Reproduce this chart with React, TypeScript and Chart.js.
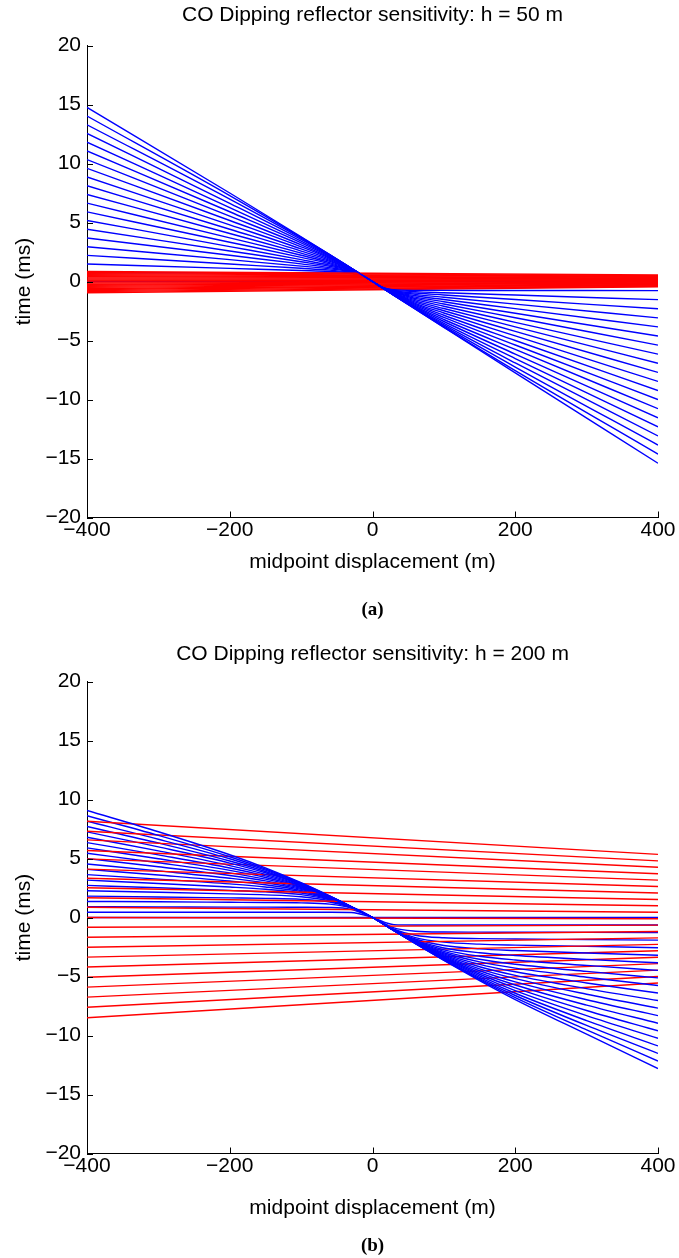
import React, { useEffect, useRef } from "react";
import { Chart, registerables } from "chart.js";
Chart.register(...registerables);

// ---------- shared axis data ----------
const xTickValues = [-400, -200, 0, 200, 400];
const xTickLabels = ["\u2212400", "\u2212200", "0", "200", "400"];
const yTickValues = [-20, -15, -10, -5, 0, 5, 10, 15, 20];
const yTickLabels = ["\u221220", "\u221215", "\u221210", "\u22125", "0", "5", "10", "15", "20"];
const xAxisTitle = "midpoint displacement (m)";
const yAxisTitle = "time (ms)";

// ---------- panel (a): h = 50 m ----------
const titleA = "CO Dipping reflector sensitivity: h = 50 m";
const captionA = "(a)";
const xA = [-400, -200, -100, -60, -30, -15, 0, 15, 30, 60, 100, 200, 400];
const blueA = [
  [0, 0, 0, 0, 0, 0, 0, 0, 0, 0, 0, 0, 0],
  [0.74, 0.74, 0.74, 0.735, 0.67, 0.48, 0, -0.49, -0.69, -0.75, -0.755, -0.76, -0.77],
  [1.48, 1.11, 0.93, 0.85, 0.73, 0.49, 0, -0.5, -0.735, -0.86, -0.95, -1.15, -1.54],
  [2.21, 1.48, 1.12, 0.96, 0.77, 0.5, 0, -0.51, -0.78, -0.98, -1.14, -1.53, -2.31],
  [2.95, 1.85, 1.3, 1.07, 0.81, 0.51, 0, -0.52, -0.83, -1.09, -1.33, -1.92, -3.08],
  [3.69, 2.22, 1.49, 1.18, 0.85, 0.52, 0, -0.53, -0.87, -1.21, -1.53, -2.3, -3.85],
  [4.43, 2.59, 1.67, 1.29, 0.89, 0.53, 0, -0.54, -0.91, -1.32, -1.72, -2.69, -4.62],
  [5.17, 2.96, 1.85, 1.39, 0.93, 0.54, 0, -0.55, -0.95, -1.43, -1.91, -3.07, -5.39],
  [5.9, 3.33, 2.04, 1.5, 0.96, 0.54, 0, -0.56, -0.98, -1.54, -2.1, -3.46, -6.16],
  [6.64, 3.7, 2.22, 1.6, 0.99, 0.55, 0, -0.56, -1.02, -1.64, -2.29, -3.84, -6.93],
  [7.38, 4.07, 2.4, 1.7, 1.02, 0.55, 0, -0.57, -1.05, -1.75, -2.48, -4.23, -7.7],
  [8.12, 4.43, 2.58, 1.79, 1.04, 0.56, 0, -0.57, -1.07, -1.85, -2.67, -4.61, -8.47],
  [8.86, 4.8, 2.76, 1.88, 1.07, 0.56, 0, -0.57, -1.1, -1.94, -2.86, -5.0, -9.24],
  [9.59, 5.17, 2.94, 1.97, 1.09, 0.56, 0, -0.58, -1.12, -2.03, -3.04, -5.38, -10.01],
  [10.33, 5.54, 3.11, 2.04, 1.1, 0.56, 0, -0.58, -1.13, -2.11, -3.22, -5.76, -10.78],
  [11.07, 5.91, 3.28, 2.11, 1.11, 0.57, 0, -0.58, -1.15, -2.18, -3.39, -6.15, -11.55],
  [11.81, 6.27, 3.43, 2.17, 1.12, 0.57, 0, -0.58, -1.16, -2.24, -3.55, -6.53, -12.32],
  [12.55, 6.63, 3.56, 2.21, 1.13, 0.57, 0, -0.58, -1.16, -2.28, -3.68, -6.9, -13.09],
  [13.28, 6.98, 3.67, 2.25, 1.14, 0.57, 0, -0.59, -1.17, -2.31, -3.79, -7.25, -13.86],
  [14.02, 7.28, 3.74, 2.27, 1.14, 0.57, 0, -0.59, -1.17, -2.33, -3.86, -7.55, -14.63],
  [14.76, 7.5, 3.79, 2.28, 1.14, 0.57, 0, -0.59, -1.17, -2.34, -3.89, -7.75, -15.4],
];
const redXA = [-400, 400];
const redLeftA = [0.85, 0.76, 0.67, 0.58, 0.49, 0.4, 0.31, 0.22, 0.13, 0.04, -0.05, -0.14, -0.23, -0.32, -0.41, -0.5, -0.59, -0.68, -0.77, -0.86, -0.95];
const redRightA = [0.55, 0.5, 0.45, 0.4, 0.35, 0.3, 0.25, 0.2, 0.15, 0.1, 0.05, 0, -0.05, -0.1, -0.15, -0.2, -0.25, -0.3, -0.35, -0.4, -0.45];

// ---------- panel (b): h = 200 m ----------
const titleB = "CO Dipping reflector sensitivity: h = 200 m";
const captionB = "(b)";
const xB = [-400, -300, -200, -150, -100, -60, -30, 0, 30, 60, 100, 150, 200, 300, 400];
const blueB = [
  [0, 0, 0, 0, 0, 0, 0, 0, 0, 0, 0, 0, 0, 0, 0],
  [0.45, 0.45, 0.45, 0.45, 0.45, 0.44, 0.43, 0, -0.6, -0.63, -0.63, -0.64, -0.64, -0.64, -0.64],
  [0.91, 0.9, 0.88, 0.88, 0.87, 0.85, 0.69, 0, -0.88, -1.16, -1.23, -1.24, -1.25, -1.26, -1.28],
  [1.36, 1.33, 1.29, 1.27, 1.24, 1.13, 0.79, 0, -0.98, -1.5, -1.72, -1.79, -1.82, -1.87, -1.92],
  [1.81, 1.74, 1.66, 1.62, 1.54, 1.31, 0.84, 0, -1.03, -1.7, -2.09, -2.26, -2.34, -2.45, -2.56],
  [2.27, 2.14, 2.0, 1.92, 1.76, 1.42, 0.86, 0, -1.05, -1.82, -2.37, -2.66, -2.8, -3.01, -3.2],
  [2.72, 2.52, 2.3, 2.17, 1.94, 1.5, 0.87, 0, -1.06, -1.9, -2.58, -2.99, -3.22, -3.55, -3.84],
  [3.17, 2.88, 2.58, 2.39, 2.08, 1.55, 0.88, 0, -1.07, -1.95, -2.74, -3.28, -3.6, -4.06, -4.48],
  [3.63, 3.25, 2.85, 2.59, 2.19, 1.6, 0.89, 0, -1.08, -2.0, -2.87, -3.54, -3.96, -4.57, -5.12],
  [4.08, 3.6, 3.09, 2.77, 2.29, 1.63, 0.9, 0, -1.09, -2.03, -2.99, -3.76, -4.29, -5.06, -5.76],
  [4.54, 3.95, 3.33, 2.94, 2.38, 1.66, 0.9, 0, -1.09, -2.06, -3.08, -3.97, -4.6, -5.55, -6.4],
  [4.99, 4.3, 3.56, 3.1, 2.46, 1.69, 0.91, 0, -1.09, -2.09, -3.17, -4.17, -4.9, -6.03, -7.04],
  [5.44, 4.64, 3.78, 3.25, 2.54, 1.71, 0.91, 0, -1.1, -2.11, -3.25, -4.35, -5.18, -6.5, -7.68],
  [5.9, 4.98, 3.99, 3.39, 2.6, 1.73, 0.91, 0, -1.1, -2.13, -3.32, -4.51, -5.46, -6.97, -8.32],
  [6.35, 5.31, 4.2, 3.53, 2.67, 1.75, 0.91, 0, -1.1, -2.15, -3.39, -4.67, -5.72, -7.43, -8.96],
  [6.8, 5.65, 4.4, 3.66, 2.72, 1.77, 0.92, 0, -1.1, -2.16, -3.44, -4.81, -5.96, -7.88, -9.6],
  [7.26, 5.98, 4.61, 3.79, 2.78, 1.78, 0.92, 0, -1.1, -2.17, -3.49, -4.95, -6.2, -8.32, -10.24],
  [7.71, 6.31, 4.79, 3.9, 2.83, 1.79, 0.92, 0, -1.11, -2.18, -3.54, -5.07, -6.42, -8.74, -10.88],
  [8.16, 6.63, 4.98, 4.01, 2.87, 1.81, 0.92, 0, -1.11, -2.19, -3.58, -5.17, -6.61, -9.15, -11.52],
  [8.62, 6.96, 5.15, 4.11, 2.91, 1.82, 0.92, 0, -1.11, -2.2, -3.61, -5.26, -6.79, -9.53, -12.16],
  [9.07, 7.27, 5.32, 4.21, 2.95, 1.83, 0.93, 0, -1.11, -2.21, -3.63, -5.34, -6.95, -9.89, -12.8],
];
const redXB = [-400, 400];
const redLeftB = [8.16, 7.31, 6.58, 5.68, 4.97, 4.1, 3.33, 2.52, 1.67, 0.87, 0, -0.82, -1.67, -2.52, -3.36, -4.2, -5.06, -5.9, -6.75, -7.6, -8.5];
const redRightB = [5.35, 4.8, 4.26, 3.71, 3.17, 2.63, 2.08, 1.53, 0.99, 0.45, -0.1, -0.65, -1.19, -1.73, -2.28, -2.82, -3.37, -3.91, -4.46, -5.0, -5.55];

const FONT = '"Liberation Sans", Arial, Helvetica, sans-serif';
const BLUE = "#0000ff";
const RED = "#ff0000";

function buildDatasets(xs: number[], blue: number[][], redX: number[], redL: number[], redR: number[]) {
  const ds: any[] = [];
  const n = Math.max(blue.length, redL.length);
  // interleaved drawing order: steepest blue first, flat blue last (on top)
  for (let i = 0; i < n; i++) {
    const row = blue[blue.length - 1 - i];
    if (row) {
      ds.push({
        data: xs.map((x, j) => ({ x, y: row[j] })),
        borderColor: BLUE,
        borderWidth: 1.4,
        pointRadius: 0,
        fill: false,
        cubicInterpolationMode: "monotone",
      });
    }
    if (i < redL.length) {
      ds.push({
        data: [{ x: redX[0], y: redL[i] }, { x: redX[1], y: redR[i] }],
        borderColor: RED,
        borderWidth: 1.4,
        pointRadius: 0,
        fill: false,
      });
    }
  }
  return ds;
}

function decorPlugin(title: string, caption: string, titleY: number, captionY: number) {
  return {
    id: "decor",
    afterDraw(chart: any) {
      const { ctx, chartArea, scales } = chart;
      const { left, right, bottom } = chartArea;
      ctx.save();
      ctx.strokeStyle = "#000";
      ctx.lineWidth = 1;
      ctx.beginPath();
      xTickValues.forEach((v) => {
        const px = Math.round(scales.x.getPixelForValue(v)) + 0.5;
        ctx.moveTo(px, bottom);
        ctx.lineTo(px, bottom - 6);
      });
      yTickValues.forEach((v) => {
        const py = Math.round(scales.y.getPixelForValue(v)) + 0.5;
        ctx.moveTo(left, py);
        ctx.lineTo(left + 6, py);
      });
      ctx.stroke();
      ctx.fillStyle = "#000";
      ctx.textAlign = "center";
      ctx.textBaseline = "middle";
      ctx.font = `21px ${FONT}`;
      ctx.fillText(title, (left + right) / 2, titleY);
      ctx.font = 'bold 19px "Liberation Serif", "Times New Roman", serif';
      ctx.fillText(caption, (left + right) / 2, captionY);
      ctx.restore();
    },
  };
}

function Panel(props: {
  height: number;
  top: number;
  bottom: number;
  xlabelY: number;
  titleY: number;
  captionY: number;
  title: string;
  caption: string;
  xs: number[];
  blue: number[][];
  redX: number[];
  redL: number[];
  redR: number[];
}) {
  const ref = useRef<HTMLCanvasElement | null>(null);
  useEffect(() => {
    if (!ref.current) return;
    const tickFont = { family: FONT, size: 21 };
    const axisH = props.height - props.bottom;
    const chart = new Chart(ref.current, {
      type: "line",
      data: { datasets: buildDatasets(props.xs, props.blue, props.redX, props.redL, props.redR) },
      options: {
        animation: false,
        responsive: false,
        devicePixelRatio: 1,
        layout: { padding: { left: 0, right: 21, top: props.top, bottom: 0 } },
        plugins: { legend: { display: false }, tooltip: { enabled: false }, title: { display: false } },
        elements: { point: { radius: 0 }, line: { tension: 0 } },
        scales: {
          x: {
            type: "linear",
            min: -400,
            max: 400,
            afterBuildTicks: (s: any) => {
              s.ticks = xTickValues.map((v) => ({ value: v }));
            },
            ticks: {
              autoSkip: false,
              maxRotation: 0,
              color: "#000",
              font: tickFont,
              padding: 0,
              callback: (_v: any, i: number) => xTickLabels[i],
            },
            grid: { display: false, drawTicks: false },
            border: { display: true, color: "#000", width: 1 },
            title: {
              display: true,
              text: xAxisTitle,
              color: "#000",
              font: tickFont,
              padding: { top: 0, bottom: props.height - props.xlabelY - 12.6 },
            },
            afterFit: (s: any) => {
              s.height = axisH;
            },
          },
          y: {
            type: "linear",
            min: -20,
            max: 20,
            afterBuildTicks: (s: any) => {
              s.ticks = yTickValues.map((v) => ({ value: v }));
            },
            ticks: {
              autoSkip: false,
              color: "#000",
              font: tickFont,
              padding: 6,
              callback: (_v: any, i: number) => yTickLabels[i],
            },
            grid: { display: false, drawTicks: false },
            border: { display: true, color: "#000", width: 1 },
            title: { display: true, text: yAxisTitle, color: "#000", font: tickFont, padding: { top: 12, bottom: 0 } },
            afterFit: (s: any) => {
              s.width = 87;
            },
          },
        },
      } as any,
      plugins: [decorPlugin(props.title, props.caption, props.titleY, props.captionY)],
    });
    return () => chart.destroy();
  }, []);
  return <canvas ref={ref} width={679} height={props.height} style={{ display: "block", width: 679, height: props.height }} />;
}

export default function App() {
  useEffect(() => {
    document.body.style.margin = "0";
  }, []);
  return (
    <div style={{ width: 679, background: "#fff" }}>
      <Panel height={636} top={45.5} bottom={517.5} xlabelY={562} titleY={15} captionY={610}
        title={titleA} caption={captionA} xs={xA} blue={blueA} redX={redXA} redL={redLeftA} redR={redRightA} />
      <Panel height={622} top={45.5} bottom={517.5} xlabelY={572} titleY={18} captionY={610}
        title={titleB} caption={captionB} xs={xB} blue={blueB} redX={redXB} redL={redLeftB} redR={redRightB} />
    </div>
  );
}
